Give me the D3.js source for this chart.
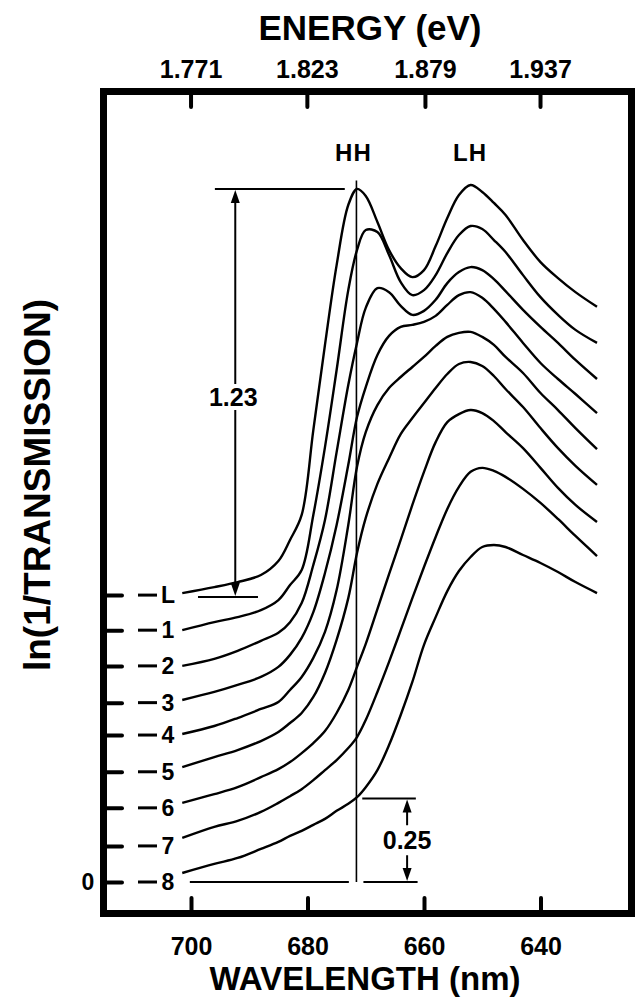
<!DOCTYPE html>
<html>
<head>
<meta charset="utf-8">
<script src="https://cdn.jsdelivr.net/npm/d3@7"></script>
<style>
  body { margin: 0; background: #fff; }
  text { font-family: "Liberation Sans", Arial, sans-serif; font-weight: bold; fill: #000; }
</style>
</head>
<body>
<div id="chart"></div>
<script>
// wavelength grid shared by every trace (nm)
const wavelengths = [701.5, 696, 692, 688, 685, 683, 681, 679, 677, 675, 673, 671.5, 670, 668, 666,
  664, 662, 660, 658, 656, 654, 652, 650, 648, 646, 643, 640, 637, 634, 630.3];

// ln(1/T), offsets included
const traceL = [0.865, 0.883, 0.898, 0.919, 0.961, 1.024, 1.099, 1.353, 1.608, 1.847, 2.027, 2.075, 2.054, 1.976, 1.892,
  1.838, 1.811, 1.832, 1.904, 1.988, 2.057, 2.087, 2.066, 2.033, 1.997, 1.922, 1.856, 1.808, 1.766, 1.722];
const trace1 = [0.754, 0.778, 0.793, 0.814, 0.844, 0.889, 0.934, 1.099, 1.302, 1.533, 1.772, 1.892, 1.952, 1.946, 1.877,
  1.796, 1.757, 1.772, 1.817, 1.883, 1.937, 1.964, 1.955, 1.922, 1.886, 1.817, 1.751, 1.698, 1.653, 1.614];
const trace2 = [0.647, 0.668, 0.692, 0.722, 0.746, 0.778, 0.835, 0.949, 1.084, 1.287, 1.488, 1.614, 1.719, 1.778, 1.766,
  1.725, 1.698, 1.710, 1.743, 1.793, 1.826, 1.841, 1.832, 1.805, 1.769, 1.713, 1.662, 1.614, 1.563, 1.506];
const trace3 = [0.545, 0.569, 0.590, 0.614, 0.644, 0.680, 0.731, 0.808, 0.925, 1.069, 1.249, 1.392, 1.482, 1.578, 1.635,
  1.662, 1.668, 1.677, 1.695, 1.728, 1.757, 1.766, 1.749, 1.716, 1.677, 1.614, 1.554, 1.506, 1.461, 1.404];
const trace4 = [0.443, 0.467, 0.491, 0.518, 0.539, 0.575, 0.614, 0.671, 0.749, 0.874, 1.069, 1.243, 1.347, 1.428, 1.479,
  1.512, 1.542, 1.572, 1.605, 1.632, 1.644, 1.647, 1.632, 1.608, 1.572, 1.524, 1.464, 1.413, 1.359, 1.296];
const trace5 = [0.344, 0.374, 0.395, 0.422, 0.449, 0.476, 0.506, 0.554, 0.626, 0.725, 0.850, 0.985, 1.090, 1.192, 1.269,
  1.341, 1.389, 1.434, 1.479, 1.521, 1.551, 1.557, 1.545, 1.515, 1.476, 1.422, 1.359, 1.299, 1.246, 1.189];
const trace6 = [0.237, 0.263, 0.284, 0.314, 0.338, 0.359, 0.386, 0.416, 0.452, 0.506, 0.575, 0.644, 0.713, 0.817, 0.922,
  1.024, 1.129, 1.228, 1.317, 1.377, 1.401, 1.413, 1.404, 1.380, 1.347, 1.299, 1.240, 1.180, 1.129, 1.078];
const trace7 = [0.132, 0.165, 0.183, 0.210, 0.237, 0.257, 0.278, 0.305, 0.335, 0.365, 0.401, 0.434, 0.485, 0.569, 0.659,
  0.754, 0.850, 0.943, 1.033, 1.117, 1.183, 1.228, 1.240, 1.231, 1.213, 1.177, 1.135, 1.087, 1.036, 0.976];
const trace8 = [0.027, 0.054, 0.072, 0.099, 0.120, 0.138, 0.153, 0.171, 0.189, 0.213, 0.234, 0.254, 0.284, 0.335, 0.410,
  0.500, 0.599, 0.710, 0.793, 0.871, 0.931, 0.973, 1.003, 1.009, 1.003, 0.979, 0.955, 0.928, 0.898, 0.865];

const traces = [traceL, trace1, trace2, trace3, trace4, trace5, trace6, trace7, trace8];
const traceNames = ["L", "1", "2", "3", "4", "5", "6", "7", "8"];
const traceOffsets = [0.859, 0.754, 0.647, 0.537, 0.440, 0.330, 0.222, 0.108, 0];

const wavelengthTicks = [700, 680, 660, 640];
const energyTicks = [1.771, 1.823, 1.879, 1.937];

// annotations
const hhWavelength = 671.6;
const lhWavelength = 652.1;
const peakHeight = { value: 1.23, top: 2.075, bottom: 0.853, at: 692.4 };
const stepHeight = { value: 0.25, top: 0.25, bottom: 0, at: 662.9 };

const width = 635, height = 998;
const x = d3.scaleLinear().domain([700, 640]).range([191, 540.5]);
const y = d3.scaleLinear().domain([0, 1]).range([882, 548]);

const svg = d3.select("#chart").append("svg")
    .attr("width", width)
    .attr("height", height);

// frame
svg.append("rect")
    .attr("x", 103.5).attr("y", 91.5)
    .attr("width", 631.5 - 103.5).attr("height", 913.5 - 91.5)
    .attr("fill", "none").attr("stroke", "#000").attr("stroke-width", 7);

// bottom axis
const gx = svg.append("g")
    .attr("transform", "translate(0,910)")
    .call(d3.axisBottom(x).tickValues(wavelengthTicks).tickSizeInner(-12).tickSizeOuter(0).tickPadding(27));

// top axis, energy = 1239.84 / wavelength
const gt = svg.append("g")
    .attr("transform", "translate(0,95)")
    .call(d3.axisTop(x).tickValues(energyTicks.map(e => 1239.84 / e)).tickSizeInner(-12).tickSizeOuter(0).tickPadding(17)
      .tickFormat(d => (1239.84 / d).toFixed(3)));

// left ticks at each trace offset
const gy = svg.append("g")
    .attr("transform", "translate(107,0)")
    .call(d3.axisLeft(y).tickValues(traceOffsets).tickSizeInner(-15).tickSizeOuter(0).tickFormat(""));

[gx, gt, gy].forEach(g => {
  g.select(".domain").remove();
  g.selectAll(".tick line").attr("stroke", "#000").attr("stroke-width", 4).attr("stroke-linecap", "round");
  g.selectAll(".tick text").attr("font-size", 25).attr("font-family", null).attr("fill", "#000");
});

// axis titles
svg.append("text")
    .attr("x", 370).attr("y", 40)
    .attr("text-anchor", "middle")
    .attr("font-size", 35)
    .text("ENERGY (eV)");

svg.append("text")
    .attr("x", 365).attr("y", 990)
    .attr("text-anchor", "middle")
    .attr("font-size", 33)
    .text("WAVELENGTH (nm)");

svg.append("text")
    .attr("transform", "translate(50,485) rotate(-90)")
    .attr("text-anchor", "middle")
    .attr("font-size", 37)
    .text("ln(1/TRANSMISSION)");

svg.append("text")
    .attr("x", 88).attr("y", y(0))
    .attr("dy", "0.36em")
    .attr("text-anchor", "middle")
    .attr("font-size", 23)
    .text("0");

// trace labels with leading dash
const lab = svg.append("g");
lab.selectAll("line")
  .data(traceOffsets)
  .join("line")
    .attr("x1", 138).attr("x2", 157)
    .attr("y1", d => y(d)).attr("y2", d => y(d))
    .attr("stroke", "#000").attr("stroke-width", 3);
lab.selectAll("text")
  .data(traceOffsets)
  .join("text")
    .attr("x", 168).attr("y", d => y(d))
    .attr("dy", "0.36em")
    .attr("text-anchor", "middle")
    .attr("font-size", 23)
    .text((d, i) => traceNames[i]);

// traces
const line = d3.line()
    .x((d, i) => x(wavelengths[i]))
    .y(d => y(d))
    .curve(d3.curveCatmullRom.alpha(0.5));

svg.append("g")
  .selectAll("path")
  .data(traces)
  .join("path")
    .attr("d", line)
    .attr("fill", "none")
    .attr("stroke", "#000")
    .attr("stroke-width", 2.4)
    .attr("stroke-linejoin", "round");

// annotation lines
const ann = svg.append("g").attr("stroke", "#000").attr("stroke-width", 2);

ann.append("line")
    .attr("x1", x(hhWavelength)).attr("x2", x(hhWavelength))
    .attr("y1", y(2.1)).attr("y2", y(0))
    .attr("stroke-width", 1.6);

// 1.23 bracket
ann.append("line")
    .attr("x1", x(695.9)).attr("x2", x(673.6))
    .attr("y1", y(peakHeight.top)).attr("y2", y(peakHeight.top));
ann.append("line")
    .attr("x1", x(698.8)).attr("x2", x(688.5))
    .attr("y1", y(peakHeight.bottom)).attr("y2", y(peakHeight.bottom));
ann.append("line")
    .attr("x1", x(peakHeight.at)).attr("x2", x(peakHeight.at))
    .attr("y1", y(peakHeight.top) + 10).attr("y2", y(peakHeight.bottom) - 10);

// 0.25 bracket and baseline
ann.append("line")
    .attr("x1", x(700.2)).attr("x2", x(672.9))
    .attr("y1", y(0)).attr("y2", y(0));
ann.append("line")
    .attr("x1", x(670.6)).attr("x2", x(661.4))
    .attr("y1", y(stepHeight.top)).attr("y2", y(stepHeight.top));
ann.append("line")
    .attr("x1", x(670.4)).attr("x2", x(661.1))
    .attr("y1", y(stepHeight.bottom)).attr("y2", y(stepHeight.bottom));

const midStep = (y(stepHeight.top) + y(stepHeight.bottom)) / 2;
ann.append("line")
    .attr("x1", x(stepHeight.at)).attr("x2", x(stepHeight.at))
    .attr("y1", y(stepHeight.top) + 10).attr("y2", midStep - 15);
ann.append("line")
    .attr("x1", x(stepHeight.at)).attr("x2", x(stepHeight.at))
    .attr("y1", midStep + 15).attr("y2", y(stepHeight.bottom) - 10);

function arrowHead(px, tipY, dir) {
  // dir = -1 points up, +1 points down
  const b = tipY - dir * 13;
  svg.append("path")
      .attr("d", `M${px},${tipY}L${px - 4.5},${b}L${px + 4.5},${b}Z`)
      .attr("fill", "#000");
}
arrowHead(x(peakHeight.at), y(peakHeight.top) + 1, -1);
arrowHead(x(peakHeight.at), y(peakHeight.bottom) - 1, 1);
arrowHead(x(stepHeight.at), y(stepHeight.top) + 1, -1);
arrowHead(x(stepHeight.at), y(stepHeight.bottom) - 1, 1);

// value labels
const midPeak = 397;
svg.append("rect")
    .attr("x", x(peakHeight.at) - 28).attr("y", midPeak - 13)
    .attr("width", 56).attr("height", 26)
    .attr("fill", "#fff");
svg.append("text")
    .attr("x", x(peakHeight.at) - 2).attr("y", midPeak)
    .attr("dy", "0.36em")
    .attr("text-anchor", "middle")
    .attr("font-size", 25)
    .text(peakHeight.value.toFixed(2));

svg.append("text")
    .attr("x", x(stepHeight.at)).attr("y", midStep)
    .attr("dy", "0.36em")
    .attr("text-anchor", "middle")
    .attr("font-size", 25)
    .text(stepHeight.value.toFixed(2));

svg.append("text")
    .attr("x", x(hhWavelength) - 3).attr("y", 152)
    .attr("dy", "0.36em")
    .attr("text-anchor", "middle")
    .attr("font-size", 24)
    .attr("letter-spacing", 1)
    .text("HH");
svg.append("text")
    .attr("x", x(lhWavelength)).attr("y", 152)
    .attr("dy", "0.36em")
    .attr("text-anchor", "middle")
    .attr("font-size", 24)
    .attr("letter-spacing", 1)
    .text("LH");
</script>
</body>
</html>
